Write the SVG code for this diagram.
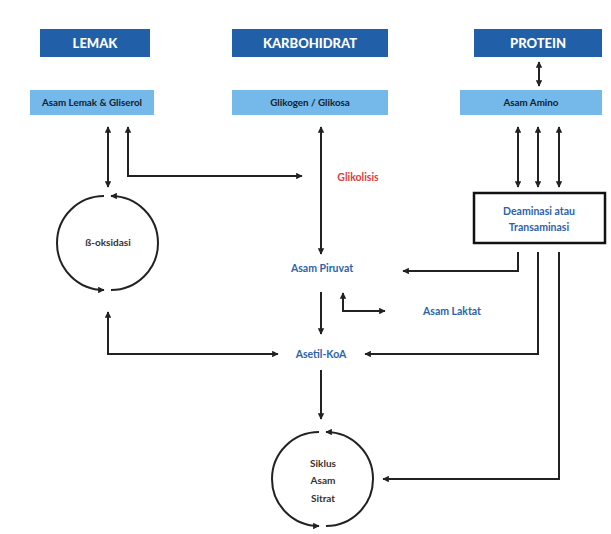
<svg xmlns="http://www.w3.org/2000/svg" width="611" height="534" viewBox="0 0 611 534">
  <defs>
    <marker id="ah" viewBox="0 0 10 10" refX="9" refY="5" markerWidth="6.5" markerHeight="6.5" markerUnits="userSpaceOnUse" orient="auto-start-reverse">
      <path d="M0,0 L10,5 L0,10 z" fill="#222"/>
    </marker>
  </defs>
  <style>
    .hdr { fill: #2160A8; }
    .sub { fill: #74B9EA; }
    .ht { font-family: Lato, "Liberation Sans", sans-serif; font-weight: 900; font-size: 13px; fill: #ffffff; text-anchor: middle; }
    .st { font-family: Lato, "Liberation Sans", sans-serif; font-weight: bold; font-size: 9.8px; fill: #15202c; text-anchor: middle; }
    .bt { font-family: Lato, "Liberation Sans", sans-serif; font-weight: bold; font-size: 10.5px; fill: #2E62A8; text-anchor: middle; }
    .gt { font-family: Lato, "Liberation Sans", sans-serif; font-weight: bold; font-size: 10px; fill: #333; text-anchor: middle; }
    .rt { font-family: Lato, "Liberation Sans", sans-serif; font-weight: bold; font-size: 10.5px; fill: #E04040; text-anchor: middle; }
    .ln { fill: none; stroke: #222; stroke-width: 2; }
    .a1 { marker-end: url(#ah); }
    .a2 { marker-start: url(#ah); marker-end: url(#ah); }
  </style>
  <rect width="611" height="534" fill="#ffffff"/>

  <g id="lemak"><rect class="hdr" x="40" y="29" width="110" height="28"/><text class="ht" x="95" y="48">LEMAK</text></g>
  <g id="karbohidrat"><rect class="hdr" x="232" y="29" width="156" height="28"/><text class="ht" x="310" y="48">KARBOHIDRAT</text></g>
  <g id="protein"><rect class="hdr" x="474" y="29" width="128" height="28"/><text class="ht" x="538" y="48">PROTEIN</text></g>

  <g id="asam-lemak"><rect class="sub" x="30" y="90" width="124" height="25"/><text class="st" x="92" y="106">Asam Lemak &amp; Gliserol</text></g>
  <g id="glikogen"><rect class="sub" x="232" y="90" width="156" height="25"/><text class="st" x="310" y="106">Glikogen / Glikosa</text></g>
  <g id="asam-amino"><rect class="sub" x="460" y="90" width="142" height="25"/><text class="st" x="531" y="106">Asam Amino</text></g>

  <g id="beta-oksidasi">
    <path class="ln" d="M104,196 A47,47 0 0 0 104,290" marker-end="url(#ah)"/>
    <path class="ln" d="M111,290 A47,47 0 0 0 111,196" marker-end="url(#ah)"/>
    <text class="gt" x="108" y="246">ß-oksidasi</text>
  </g>

  <g id="glikolisis"><text class="rt" x="358" y="181">Glikolisis</text></g>

  <g id="deaminasi">
    <rect x="474" y="193" width="131" height="50" fill="#fff" stroke="#111" stroke-width="2.5"/>
    <text class="bt" x="539" y="215">Deaminasi atau</text>
    <text class="bt" x="539" y="231">Transaminasi</text>
  </g>

  <g id="asam-piruvat"><text class="bt" x="322" y="272">Asam Piruvat</text></g>
  <g id="asam-laktat"><text class="bt" x="452" y="315">Asam Laktat</text></g>
  <g id="asetil-koa"><text class="bt" x="321" y="358">Asetil-KoA</text></g>

  <g id="siklus">
    <path class="ln" d="M319,432 A47,47 0 0 0 319,526" marker-end="url(#ah)"/>
    <path class="ln" d="M326,526 A47,47 0 0 0 326,432" marker-end="url(#ah)"/>
    <text class="gt" x="323" y="467">Siklus</text>
    <text class="gt" x="323" y="484">Asam</text>
    <text class="gt" x="323" y="502">Sitrat</text>
  </g>

  <g id="connectors">
    <line class="ln a2" x1="539" y1="62" x2="539" y2="86"/>
    <line class="ln a2" x1="108" y1="127" x2="108" y2="187"/>
    <polyline class="ln a2" points="128,127 128,176 302,176"/>
    <line class="ln a2" x1="321" y1="127" x2="321" y2="254"/>
    <line class="ln a2" x1="518" y1="127" x2="518" y2="187"/>
    <line class="ln a2" x1="538" y1="127" x2="538" y2="187"/>
    <line class="ln a2" x1="559" y1="127" x2="559" y2="187"/>
    <polyline class="ln a1" points="518,252 518,271 403,271"/>
    <line class="ln a1" x1="321" y1="292" x2="321" y2="334"/>
    <polyline class="ln a2" points="343,293 343,311 385,311"/>
    <polyline class="ln a2" points="108,312 108,354 278,354"/>
    <polyline class="ln a1" points="538,252 538,354 365,354"/>
    <line class="ln a1" x1="321" y1="370" x2="321" y2="419"/>
    <polyline class="ln a1" points="559,252 559,479 383,479"/>
  </g>
</svg>
